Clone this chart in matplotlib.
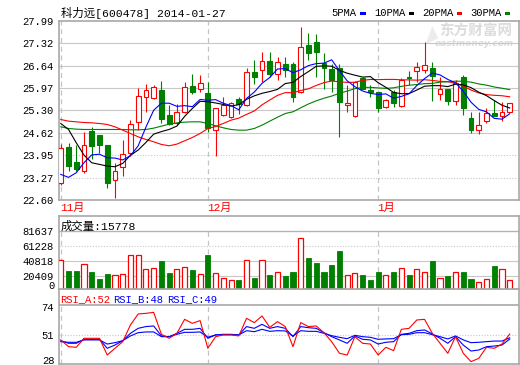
import numpy as np
import matplotlib
matplotlib.use('Agg')
import matplotlib.pyplot as plt
from matplotlib.patches import Rectangle

# ---------------- data ----------------
opens = [23.10, 24.18, 23.74, 23.48, 24.67, 24.55, 24.25, 23.20, 23.60, 24.00,
         24.93, 25.71, 25.66, 25.91, 25.16, 24.90, 25.24, 26.03, 25.94, 25.81,
         24.69, 25.16, 25.11, 25.63, 25.46, 26.44, 26.51, 26.78, 26.38, 26.68,
         26.68, 25.86, 27.26, 27.34, 26.71, 26.54, 26.56, 25.46, 25.13, 26.28,
         25.91, 25.84, 25.41, 25.86, 25.44, 26.31, 26.48, 26.51, 26.58, 25.80,
         25.94, 25.58, 26.31, 25.07, 24.70, 24.97, 25.23, 25.13, 25.24]
highs = [24.27, 24.30, 24.25, 24.64, 24.80, 24.55, 24.25, 23.70, 24.40, 25.00,
         25.96, 26.09, 26.06, 26.18, 25.46, 25.48, 26.16, 26.38, 26.36, 26.14,
         25.38, 25.71, 25.54, 25.71, 26.56, 26.81, 27.06, 27.06, 26.91, 26.91,
         26.76, 27.81, 27.61, 27.58, 27.01, 26.68, 26.68, 26.06, 26.18, 26.31,
         26.06, 25.84, 25.64, 25.91, 26.26, 26.48, 26.76, 27.36, 26.76, 26.31,
         25.94, 26.21, 26.36, 25.26, 25.26, 25.36, 25.61, 25.54, 25.51]
lows = [23.05, 23.47, 23.47, 23.42, 23.83, 24.00, 22.97, 22.67, 23.33, 23.93,
        24.70, 25.26, 25.64, 24.90, 24.85, 24.85, 25.21, 25.79, 25.86, 24.63,
        23.93, 25.14, 25.08, 25.18, 25.44, 26.08, 26.16, 26.30, 26.21, 26.31,
        25.54, 25.81, 26.81, 26.31, 25.94, 25.84, 24.50, 25.26, 25.11, 25.94,
        25.71, 25.24, 25.36, 25.41, 25.41, 26.06, 26.16, 26.41, 25.58, 25.61,
        25.46, 25.46, 25.16, 24.60, 24.57, 24.90, 25.13, 24.97, 25.24]
closes = [24.15, 23.63, 23.52, 24.25, 24.23, 24.25, 23.10, 23.47, 23.97, 24.87,
          25.73, 25.91, 26.01, 25.03, 24.87, 25.26, 26.01, 25.86, 26.11, 24.75,
          25.36, 25.46, 25.51, 25.48, 26.46, 26.31, 26.78, 26.38, 26.76, 26.51,
          25.71, 27.21, 27.01, 27.06, 26.58, 26.21, 25.56, 25.51, 26.16, 25.94,
          25.86, 25.38, 25.61, 25.51, 26.21, 26.26, 26.61, 26.66, 26.34, 25.93,
          25.58, 26.11, 25.38, 24.70, 24.85, 25.21, 25.13, 25.26, 25.51]
volumes = [42630, 27660, 27660, 36730, 26300, 16780, 23580, 21770, 23130, 48980,
           48980, 30380, 31290, 41270, 24940, 30380, 32650, 29020, 23130, 49430,
           24490, 18140, 14970, 15420, 42180, 18590, 42630, 22220, 25850, 20860,
           26300, 72110, 45350, 38550, 26300, 35830, 54870, 21770, 24490, 21770,
           15420, 26300, 21770, 26300, 31290, 21770, 29930, 25850, 41270, 17690,
           20860, 25850, 26300, 16780, 12240, 16330, 34470, 29930, 15778]

# leading moving-average values (window reaches before the shown period)
ma5_head = [23.37, 23.28, 23.42, 23.72]
ma10_head = [24.90, 24.72, 24.32, 23.95, 23.72, 23.67, 23.62, 23.60, 23.70]
ma20_head = [25.02, 24.97, 24.95, 24.93, 24.92, 24.90, 24.87, 24.80, 24.70, 24.60,
             24.50, 24.42, 24.35, 24.27, 24.23, 24.28, 24.38, 24.48, 24.60]
ma30_head = [24.80, 24.75, 24.73, 24.72, 24.72, 24.72, 24.72, 24.72, 24.72, 24.71,
             24.71, 24.72, 24.76, 24.82, 24.88, 24.92, 24.94, 24.95, 24.95, 24.90,
             24.83, 24.77, 24.72, 24.70, 24.70, 24.75, 24.85, 24.97, 25.09]

rsi_a = [47.3, 41.9, 41.4, 48.6, 48.6, 48.6, 35.2, 40.6, 45.9, 59.3,
         68.1, 68.6, 69.4, 51.8, 48.6, 52.6, 63.8, 60.6, 62.8, 40.6,
         49.9, 51.3, 51.3, 50.5, 64.6, 61.2, 66.5, 57.4, 62.0, 58.0,
         41.9, 61.2, 58.0, 58.5, 53.1, 45.9, 36.6, 35.2, 49.9, 44.6,
         44.0, 35.2, 41.4, 38.7, 55.8, 56.6, 63.3, 63.8, 52.6, 44.6,
         36.6, 49.9, 36.6, 29.9, 32.5, 41.4, 40.6, 44.0, 52.0]
rsi_b = [46.7, 44.6, 44.6, 47.8, 47.8, 47.8, 40.6, 43.2, 46.7, 52.6,
         56.6, 58.0, 58.5, 50.5, 49.9, 52.6, 55.8, 55.8, 56.6, 48.6,
         51.3, 51.8, 51.8, 51.3, 58.0, 56.6, 59.8, 56.6, 58.0, 56.6,
         49.9, 58.0, 57.1, 56.6, 53.1, 49.9, 47.3, 44.6, 50.5, 47.8,
         47.3, 44.0, 45.4, 45.9, 51.8, 52.6, 54.7, 55.3, 52.1, 48.6,
         44.6, 49.9, 43.2, 38.4, 39.2, 41.9, 42.4, 43.2, 48.0]
rsi_c = [45.9, 45.4, 45.4, 47.3, 47.3, 47.3, 44.0, 45.1, 46.7, 50.5,
         53.1, 53.7, 53.7, 49.9, 49.9, 51.8, 53.4, 53.4, 53.7, 49.4,
         51.3, 51.5, 51.5, 51.3, 54.7, 53.9, 55.8, 54.2, 54.7, 54.5,
         50.5, 54.7, 54.2, 54.2, 52.6, 50.7, 49.4, 48.3, 51.0, 49.9,
         49.4, 47.8, 48.1, 48.3, 51.5, 51.8, 53.1, 53.1, 51.5, 49.9,
         48.1, 50.5, 47.3, 45.1, 45.4, 45.9, 46.4, 46.4, 49.0]

price_ticks = [22.60, 23.27, 23.95, 24.62, 25.30, 25.97, 26.64, 27.32, 27.99]
vol_ticks = [20409, 40818, 61228, 81637]
rsi_ticks = [51, 74]
month_idx = [0, 19, 41]
month_labels = ['11月', '12月', '1月']
title = '科力远[600478] 2014-01-27'
ma_names = ['5PMA', '10PMA', '20PMA', '30PMA']

# ---------------- style ----------------
RED = '#ff0000'
GREEN = '#008000'
BLUE = '#0000ff'
BLACK = '#000000'
GRID = '#c8c8c8'
FRAME = '#a8a8a8'
MONO = ['Liberation Mono', 'Noto Sans CJK SC']
FS = 7.6

W, H = 520, 365
fig = plt.figure(figsize=(W / 100, H / 100), dpi=100)
fig.patch.set_facecolor('white')


def rect(x0, y0, x1, y1):
    return [x0 / W, 1 - y1 / H, (x1 - x0) / W, (y1 - y0) / H]


ax1 = fig.add_axes(rect(59, 20.7, 519, 200))
ax2 = fig.add_axes(rect(59, 216, 519, 289))
ax3 = fig.add_axes(rect(59, 289, 519, 364))

n = len(closes)
xs = np.arange(n)
XL = (-0.23, 59.2)


def sma(vals, k, head):
    v = np.asarray(vals, float)
    body = np.convolve(v, np.ones(k) / k, mode='valid')
    return np.concatenate([np.asarray(head, float), body])


ma5 = sma(closes, 5, ma5_head)
ma10 = sma(closes, 10, ma10_head)
ma20 = sma(closes, 20, ma20_head)
ma30 = sma(closes, 30, ma30_head)

for ax in (ax1, ax2, ax3):
    ax.set_facecolor('none')
    ax.set_xlim(*XL)
    ax.set_xticks([])
    for s in ax.spines.values():
        s.set_color(FRAME)
        s.set_linewidth(1.2)
    ax.tick_params(axis='y', length=0, pad=4, labelsize=FS)

# ---------------- price panel ----------------
ax1.set_ylim(price_ticks[0], price_ticks[-1])
ax1.set_yticks(price_ticks)
ax1.set_yticklabels([f'{t:.2f}' for t in price_ticks], family=MONO, fontsize=FS)
for t in price_ticks[1:-1]:
    ls = '-' if t >= 24.6 else (0, (1, 1.5))
    ax1.axhline(t, color=GRID, lw=0.8, ls=ls, zorder=1)
for m in month_idx:
    ax1.axvline(m, color='#c4c4c4', lw=0.9, ls=(0, (4, 3)), zorder=1)

bw = 0.62
for i in range(n):
    o, h, l, c = opens[i], highs[i], lows[i], closes[i]
    if c >= o:
        top, bot = c, o
        ax1.vlines(i, top, h, color=RED, lw=0.8, zorder=3)
        ax1.vlines(i, l, bot, color=RED, lw=0.8, zorder=3)
        if top - bot < 0.02:
            ax1.hlines(top, i - bw / 2, i + bw / 2, color=RED, lw=1.2, zorder=3)
        else:
            ax1.add_patch(Rectangle((i - bw / 2, bot), bw, top - bot, facecolor='white',
                                    edgecolor=RED, lw=0.8, zorder=3))
    else:
        ax1.vlines(i, l, h, color=GREEN, lw=0.8, zorder=3)
        ax1.add_patch(Rectangle((i - bw / 2, c), bw, o - c, facecolor=GREEN,
                                edgecolor=GREEN, lw=0.8, zorder=3))

for series, col in ((ma30, GREEN), (ma20, RED), (ma10, BLACK), (ma5, BLUE)):
    ax1.plot(xs, series, color=col, lw=0.8, zorder=4)

# header texts
fig.text(61 / W, 1 - 13 / H, title, family=MONO, fontsize=8.2, va='center', ha='left')
leg_x = [331.5, 374, 422, 470]
leg_cols = [BLUE, BLACK, RED, GREEN]
for name, lx, col in zip(ma_names, leg_x, leg_cols):
    fig.text(lx / W, 1 - 13 / H, name, family=MONO, fontsize=FS, va='center', ha='left')
    w = 6.25 * len(name)
    fig.patches.append(Rectangle(((lx + w + 3.5) / W, 1 - 14.5 / H), 5.5 / W, 2.5 / H,
                                 transform=fig.transFigure, facecolor=col, edgecolor='none'))

# watermark
fig.text(476 / W, 1 - 31 / H, '东方财富网', family=['Noto Sans CJK SC'], fontsize=10.5,
         weight='bold', color='#dcdcdc', ha='center', va='center', zorder=-1)
fig.text(474 / W, 1 - 44 / H, 'eastmoney.com', family=['DejaVu Sans'], fontsize=6.5,
         weight='bold', style='italic', color='#dcdcdc', ha='center', va='center', zorder=-1)
fig.text(429 / W, 1 - 35 / H, '\u25E2', family=['DejaVu Sans'], fontsize=13,
         color='#ececec', ha='center', va='center', zorder=-1, rotation=25)

# month labels
for m, lab in zip(month_idx, month_labels):
    ax1.annotate(lab, xy=(m, 0), xycoords=ax1.get_xaxis_transform(), xytext=(-1, -8),
                 textcoords='offset pixels', color=RED, family=MONO, fontsize=8,
                 ha='left', va='center', annotation_clip=False)

# ---------------- volume panel ----------------
VB = 3200
VT = 101900
ax2.set_ylim(VB, VT)
ax2.set_yticks(vol_ticks)
ax2.set_yticklabels([str(t) for t in vol_ticks], family=MONO, fontsize=FS)
ax2.annotate('0', xy=(0, 0), xycoords='axes fraction', xytext=(-4, 3),
             textcoords='offset pixels', family=MONO, fontsize=FS, ha='right', va='center',
             annotation_clip=False)
for t in vol_ticks:
    if t == vol_ticks[-1]:
        ax2.axhline(t, color='#b4b4b4', lw=1.0, zorder=1)
    elif t == 61228:
        ax2.axhline(t, color=GRID, lw=0.8, ls=(0, (1, 1.5)), zorder=1)
    else:
        ax2.axhline(t, color=GRID, lw=0.8, zorder=1)
for m in month_idx:
    ax2.vlines(m, VB, vol_ticks[-1], color='#c4c4c4', lw=0.9, ls=(0, (4, 3)), zorder=1)
vw = 0.66
for i in range(n):
    up = closes[i] >= opens[i]
    if up:
        ax2.add_patch(Rectangle((i - vw / 2, 0), vw, volumes[i], facecolor='white',
                                edgecolor=RED, lw=0.9, zorder=3))
    else:
        ax2.add_patch(Rectangle((i - vw / 2, 0), vw, volumes[i], facecolor=GREEN,
                                edgecolor=GREEN, lw=0.6, zorder=3))
fig.text(61 / W, 1 - 226 / H, f'成交量:{volumes[-1]}', family=MONO, fontsize=8.2,
         va='center', ha='left')

# ---------------- RSI panel ----------------
RT = 75.3
RB = 28
px_per = 59 / (RT - RB)
ax3.set_ylim(RB, RT + 16 / px_per)
ax3.set_yticks(rsi_ticks)
ax3.set_yticklabels([str(t) for t in rsi_ticks], family=MONO, fontsize=FS)
ax3.annotate(str(RB), xy=(0, 0), xycoords='axes fraction', xytext=(-4, 3.5),
             textcoords='offset pixels', family=MONO, fontsize=FS, ha='right', va='center',
             annotation_clip=False)
ax3.axhline(RT, color=FRAME, lw=1.2, zorder=2)
ax3.axhline(51, color=GRID, lw=0.8, ls=(0, (1, 1.5)), zorder=1)
for m in month_idx:
    ax3.vlines(m, RB, RT, color='#c4c4c4', lw=0.9, ls=(0, (4, 3)), zorder=1)
ax3.plot(xs, rsi_c, color=BLUE, lw=0.8, zorder=3)
ax3.plot(xs, rsi_b, color=BLUE, lw=0.8, zorder=3)
ax3.plot(xs, rsi_a, color=RED, lw=0.8, zorder=4)
hdr_y = 1 - 299.5 / H
fig.text(60 / W, hdr_y, f'RSI_A:{rsi_a[-1]:.0f}', family=MONO, fontsize=FS, color=RED,
         va='center', ha='left')
fig.text(113 / W, hdr_y, f'RSI_B:{rsi_b[-1]:.0f}', family=MONO, fontsize=FS, color=BLUE,
         va='center', ha='left')
fig.text(167 / W, hdr_y, f'RSI_C:{rsi_c[-1]:.0f}', family=MONO, fontsize=FS, color=BLUE,
         va='center', ha='left')

fig.savefig('out.png', dpi=100, facecolor='white')
